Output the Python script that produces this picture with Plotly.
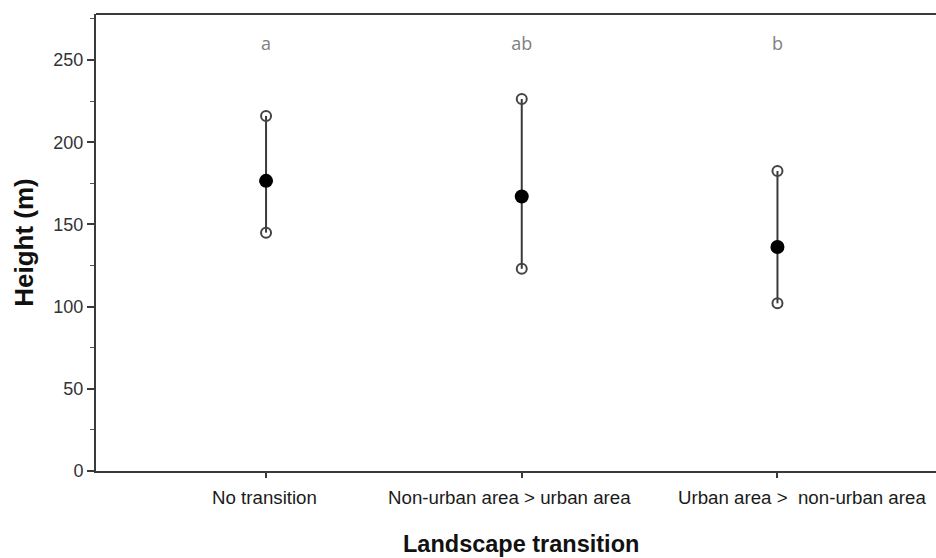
import plotly.graph_objects as go

categories = ["No transition", "Non-urban area > urban area", "Urban area >  non-urban area"]
mean_height = [176.5, 167.0, 136.3]
upper_ci = [216.0, 226.3, 182.5]
lower_ci = [145.0, 123.0, 102.0]
group_letters = ["a", "ab", "b"]
letter_y = 259
label_shift = [-2, -12, 25]

x_pos = [0, 1, 2]
line_col = "#3a3a3a"

fig = go.Figure()

# whiskers (vertical CI lines)
fig.add_trace(go.Scatter(
    x=x_pos, y=mean_height, mode="markers",
    marker=dict(size=0.1, color=line_col),
    error_y=dict(type="data", symmetric=False,
                 array=[u - m for u, m in zip(upper_ci, mean_height)],
                 arrayminus=[m - l for m, l in zip(mean_height, lower_ci)],
                 width=0, thickness=2, color=line_col),
    showlegend=False, hoverinfo="skip"))

# CI end points
fig.add_trace(go.Scatter(
    x=x_pos + x_pos, y=upper_ci + lower_ci, mode="markers",
    marker=dict(symbol="circle-open", size=10, color="#444444", line=dict(width=2)),
    showlegend=False))

# means
fig.add_trace(go.Scatter(
    x=x_pos, y=mean_height, mode="markers",
    marker=dict(symbol="circle", size=14, color="#000000"),
    showlegend=False))

# group letters
fig.add_trace(go.Scatter(
    x=x_pos, y=[letter_y] * 3, mode="text", text=group_letters,
    textfont=dict(family="Open Sans, Liberation Sans, sans-serif", size=18, color="#808080"),
    showlegend=False, hoverinfo="skip"))

# category labels (placed as in the original, slightly offset from ticks)
annotations = []
for xp, lab, sh in zip(x_pos, categories, label_shift):
    annotations.append(dict(
        x=xp, y=0, xref="x", yref="y", text=lab, showarrow=False,
        xanchor="center", yanchor="top", xshift=sh, yshift=-14,
        font=dict(family="Liberation Sans, Arial, sans-serif", size=18.7, color="#1a1a1a")))

# axis title
annotations.append(dict(
    x=0.5, y=0, xref="paper", yref="paper", text="<b>Landscape transition</b>",
    showarrow=False, xanchor="center", yanchor="middle", xshift=5, yshift=-73,
    font=dict(family="Liberation Sans, Arial, sans-serif", size=23.5, color="#111111")))

fig.update_layout(
    width=936, height=558,
    margin=dict(l=96, r=0, t=14, b=87),
    plot_bgcolor="white", paper_bgcolor="white",
    font=dict(family="Liberation Sans, Arial, sans-serif", color="#222222"),
    xaxis=dict(
        tickmode="array", tickvals=x_pos, ticktext=categories, showticklabels=False,
        range=[-0.665, 2.62],
        showline=True, linecolor=line_col, linewidth=2,
        ticks="outside", ticklen=5, tickwidth=2, tickcolor=line_col,
        showgrid=False, zeroline=False,
    ),
    yaxis=dict(
        range=[0, 278], tickvals=[0, 50, 100, 150, 200, 250],
        showline=True, linecolor=line_col, linewidth=2,
        ticks="outside", ticklen=7, tickwidth=2, tickcolor=line_col,
        minor=dict(dtick=25, tick0=0, ticks="outside", ticklen=4, tickwidth=1, tickcolor="#555555"),
        showgrid=False, zeroline=False,
        tickfont=dict(size=18, color="#333333"),
        title=dict(text="<b>Height (m)</b>", font=dict(size=26, color="#111111"), standoff=12),
    ),
    annotations=annotations,
    shapes=[dict(type="line", xref="paper", yref="paper", x0=0, x1=1, y0=1, y1=1,
                 line=dict(color=line_col, width=2))],
)

fig.write_html("out.html")
